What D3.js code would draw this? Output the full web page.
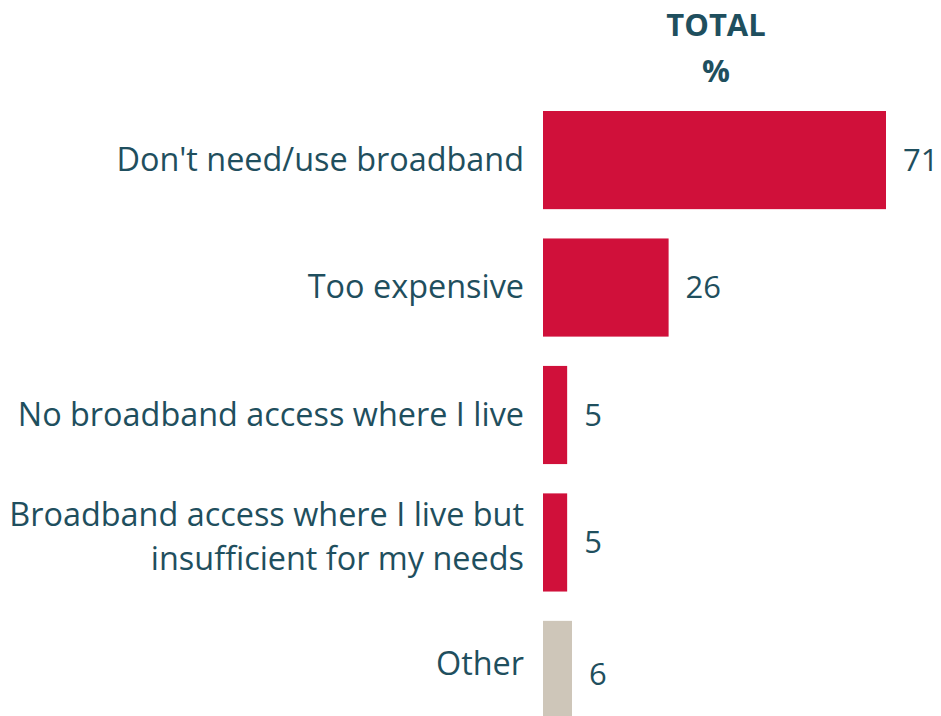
<!DOCTYPE html>
<html>
<head>
<meta charset="utf-8">
<script src="https://cdn.jsdelivr.net/npm/d3@7"></script>
<style>
  html, body { margin: 0; padding: 0; background: #ffffff; overflow: hidden; }
  svg { display: block; }
</style>
</head>
<body>
<div id="chart"></div>
<script>
// Reasons for not having broadband (total, %)
const categories = [
  ["Don't need/use broadband"],
  ["Too expensive"],
  ["No broadband access where I live"],
  ["Broadband access where I live but", "insufficient for my needs"],
  ["Other"]
];
const values = [71, 26, 5, 5, 6];
const barColors = ["#D0103A", "#D0103A", "#D0103A", "#D0103A", "#CEC6B9"];
const headerLines = ["TOTAL", "%"];

const width = 941, height = 716;
const textColor = "#1F4F5E";
const fontFamily = "'Open Sans', sans-serif";
const fontSize = 31;
const labelSize = 32.4;

const svg = d3.select("#chart").append("svg")
  .attr("width", width)
  .attr("height", height);

const idx = d3.range(values.length);

const x = d3.scaleLinear()
  .domain([0, 71])
  .range([543, 886]);

const y = d3.scaleBand()
  .domain(idx)
  .range([111, 719])
  .paddingInner(0.23)
  .paddingOuter(0);

// header
svg.append("g").selectAll("text")
  .data(headerLines)
  .join("text")
  .attr("x", 716)
  .attr("y", (d, i) => 36 + i * 46)
  .attr("text-anchor", "middle")
  .attr("fill", textColor)
  .attr("font-family", fontFamily)
  .attr("font-weight", "bold")
  .attr("font-size", fontSize)
  .text(d => d);

// bars (the last one runs off the bottom edge)
const isLast = i => i === values.length - 1;
const barH = i => isLast(i) ? y.bandwidth() + 8 : y.bandwidth();
svg.append("g").selectAll("rect")
  .data(idx)
  .join("rect")
  .attr("x", x(0))
  .attr("y", i => y(i))
  .attr("width", i => x(values[i]) - x(0))
  .attr("height", barH)
  .attr("fill", i => barColors[i]);

// value labels, centred on each bar
svg.append("g").selectAll("text")
  .data(idx)
  .join("text")
  .attr("x", i => x(values[i]) + 17)
  .attr("y", i => y(i) + barH(i) / 2)
  .attr("dy", "0.35em")
  .attr("fill", textColor)
  .attr("font-family", fontFamily)
  .attr("font-size", fontSize)
  .text(i => values[i]);

// category labels
const lineGap = 44;
const catG = svg.append("g").selectAll("text")
  .data(idx)
  .join("text")
  .attr("text-anchor", "end")
  .attr("fill", textColor)
  .attr("font-family", fontFamily)
  .attr("font-size", labelSize);

catG.each(function(i) {
  const lines = categories[i];
  const n = lines.length;
  const cy = y(i) + y.bandwidth() / 2 - (isLast(i) ? 6 : 0);
  const startY = cy - (n - 1) * (lineGap / 2 + 5);
  d3.select(this).selectAll("tspan")
    .data(lines)
    .join("tspan")
    .attr("x", 524)
    .attr("y", (d, k) => startY + k * lineGap)
    .attr("dy", "0.33em")
    .text(d => d);
});
</script>
</body>
</html>
